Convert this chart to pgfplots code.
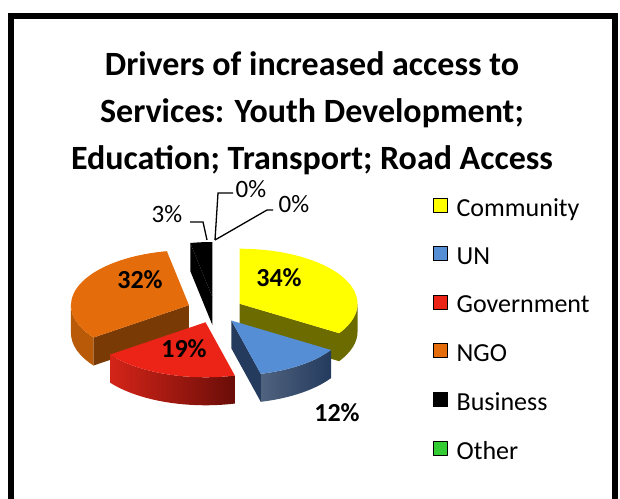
\documentclass[border=0pt]{standalone}
\usepackage{pgfplots}
\usepackage{pgfplotstable}
\pgfplotsset{compat=1.18}
\usepackage{fontspec}
\setmainfont{Carlito}

\definecolor{cYel}{HTML}{FFFF00}
\definecolor{cYelS}{HTML}{6B6B00}
\definecolor{cBlu}{HTML}{558ED5}
\definecolor{cBluS}{HTML}{243B5E}
\definecolor{cRed}{HTML}{EC2418}
\definecolor{cRedS1}{HTML}{D42418}
\definecolor{cRedS2}{HTML}{6A0D08}
\definecolor{cOra}{HTML}{E46C0A}
\definecolor{cOraS}{HTML}{7A3A05}
\definecolor{cOraW}{HTML}{B85A08}
\definecolor{cBlk}{HTML}{000000}
\definecolor{cGrn}{HTML}{33CC33}

\tikzset{
 top0/.style={fill=cYel}, wall0/.style={fill=cYelS}, face0/.style={fill=cYelS},
 top1/.style={fill=cBlu}, wall1/.style={left color=cBluS!80!white, right color=cBluS}, face1/.style={fill=cBluS},
 top2/.style={fill=cRed}, wall2/.style={left color=cRedS1, right color=cRedS2}, face2/.style={fill=cRedS2},
 top3/.style={fill=cOra}, wall3/.style={fill=cOraW}, face3/.style={fill=cOraS},
 top4/.style={fill=cBlk}, wall4/.style={fill=cBlk}, face4/.style={fill=cBlk},
 top5/.style={fill=cGrn}, wall5/.style={fill=cGrn}, face5/.style={fill=cGrn},
 top6/.style={fill=cGrn}, wall6/.style={fill=cGrn}, face6/.style={fill=cGrn},
}

\pgfplotstableread{
name value
Community 34
UN 12
Government 19
NGO 32
Business 3
Other 0
Blank 0
}\piedata

\def\cx{215}\def\cy{188}\def\R{118}\def\Ry{55}\def\D{28}\def\E{28}

\newcommand\drawslice[1]{%
 \edef\tx{\csname tx#1\endcsname}\edef\ty{\csname ty#1\endcsname}%
 \edef\aS{\csname aS#1\endcsname}\edef\aE{\csname aE#1\endcsname}%
 \ifnum\csname wv#1\endcsname=1
  \edef\wl{\csname wl#1\endcsname}\edef\wh{\csname wh#1\endcsname}%
  \pgfmathsetmacro\px{\tx+\R*cos(\wl)}\pgfmathsetmacro\py{\ty+\Ry*sin(\wl)}%
  \edef\tmp{\noexpand\path[wall#1] (axis cs:\px,\py) arc[start angle=\wl, end angle=\wh, x radius=\R pt, y radius=\Ry pt] -- ++(0pt,-\D pt) arc[start angle=\wh, end angle=\wl, x radius=\R pt, y radius=\Ry pt] -- cycle;}\tmp
 \fi
 \ifnum\csname fs#1\endcsname=1
  \pgfmathsetmacro\px{\tx+\R*cos(\aS)}\pgfmathsetmacro\py{\ty+\Ry*sin(\aS)}%
  \edef\tmp{\noexpand\path[face#1] (axis cs:\tx,\ty) -- (axis cs:\px,\py) -- ++(0pt,-\D pt) -- ([yshift=-\D pt]axis cs:\tx,\ty) -- cycle;}\tmp
 \fi
 \ifnum\csname fe#1\endcsname=1
  \pgfmathsetmacro\px{\tx+\R*cos(\aE)}\pgfmathsetmacro\py{\ty+\Ry*sin(\aE)}%
  \edef\tmp{\noexpand\path[face#1] (axis cs:\tx,\ty) -- (axis cs:\px,\py) -- ++(0pt,-\D pt) -- ([yshift=-\D pt]axis cs:\tx,\ty) -- cycle;}\tmp
 \fi
 \pgfmathsetmacro\px{\tx+\R*cos(\aE)}\pgfmathsetmacro\py{\ty+\Ry*sin(\aE)}%
 \edef\tmp{\noexpand\path[top#1] (axis cs:\tx,\ty) -- (axis cs:\px,\py) arc[start angle=\aE, end angle=\aS, x radius=\R pt, y radius=\Ry pt] -- cycle;}\tmp
}

\begin{document}
\begin{tikzpicture}
\gdef\cum{0}
\foreach \i in {0,...,6}{
  \pgfplotstablegetelem{\i}{value}\of\piedata
  \let\v\pgfplotsretval
  \pgfmathsetmacro\aS{90-3.6*\cum}
  \pgfmathsetmacro\aE{90-3.6*(\cum+\v)}
  \pgfmathsetmacro\bis{(\aS+\aE)/2}
  \pgfmathsetmacro\tx{\cx+\E*cos(\bis)}
  \pgfmathsetmacro\ty{\cy+\E*\Ry/\R*sin(\bis)}
  \pgfmathsetmacro\wl{max(\aE,-180)}
  \pgfmathsetmacro\wh{min(\aS,0)}
  \pgfmathtruncatemacro\wv{\wl<\wh}
  \pgfmathtruncatemacro\fs{cos(\aS)<-0.001}
  \pgfmathtruncatemacro\fe{cos(\aE)>0.001}
  \expandafter\xdef\csname aS\i\endcsname{\aS}
  \expandafter\xdef\csname aE\i\endcsname{\aE}
  \expandafter\xdef\csname tx\i\endcsname{\tx}
  \expandafter\xdef\csname ty\i\endcsname{\ty}
  \expandafter\xdef\csname wl\i\endcsname{\wl}
  \expandafter\xdef\csname wh\i\endcsname{\wh}
  \expandafter\xdef\csname wv\i\endcsname{\wv}
  \expandafter\xdef\csname fs\i\endcsname{\fs}
  \expandafter\xdef\csname fe\i\endcsname{\fe}
  \pgfmathsetmacro\nc{\cum+\v}
  \xdef\cum{\nc}
}
\begin{axis}[
  width=620pt, height=498pt, scale only axis,
  xmin=0, xmax=620, ymin=0, ymax=498, enlargelimits=false,
  hide axis, clip=false,
  legend style={at={(axis cs:433,303)}, anchor=north west, draw=none, fill=none,
    font=\fontsize{26}{31}\selectfont, row sep=24pt, inner sep=0pt,
    nodes={inner sep=3pt}},
  legend cell align=left,
  legend image code/.code={\fill[#1] (0pt,-4pt) rectangle (14pt,10pt); \path (20pt,0pt);},
]
\addlegendimage{fill=cYel}
\addlegendimage{fill=cBlu}
\addlegendimage{fill=cRed}
\addlegendimage{fill=cOra}
\addlegendimage{fill=cBlk}
\addlegendimage{fill=cGrn}
\legend{Community,UN,Government,NGO,Business,Other}

\drawslice{4}
\drawslice{0}
\drawslice{3}
\drawslice{1}
\drawslice{2}

\node[font=\bfseries\fontsize{26}{30}\selectfont] at (axis cs:279,220) {34\%};
\node[font=\bfseries\fontsize{26}{30}\selectfont] at (axis cs:140,218) {32\%};
\node[font=\bfseries\fontsize{26}{30}\selectfont] at (axis cs:184,149) {19\%};
\node[font=\bfseries\fontsize{26}{30}\selectfont] at (axis cs:337,85) {12\%};
\node[font=\fontsize{25}{30}\selectfont] at (axis cs:167,284) {3\%};
\node[font=\fontsize{25}{30}\selectfont] at (axis cs:251,309) {0\%};
\node[font=\fontsize{25}{30}\selectfont] at (axis cs:294,294) {0\%};
\draw[line width=1.3pt] (axis cs:190,276) -- (axis cs:203,276) -- (axis cs:207,258);
\draw[line width=1.3pt] (axis cs:233,305) -- (axis cs:218,305) -- (axis cs:215,258);
\draw[line width=1.3pt] (axis cs:273,288) -- (axis cs:267,288) -- (axis cs:215,258);

\node[align=center, font=\bfseries\fontsize{34}{47}\selectfont] at (axis cs:312,385)
 {Drivers of increased access to\\Services: Youth Development;\\Education; Transport; Road Access};

\draw[line width=6pt] (axis cs:11,-20) -- (axis cs:11,482) -- (axis cs:615,482) -- (axis cs:615,-20);
\end{axis}
\pgfresetboundingbox
\useasboundingbox (current axis.south west) rectangle (current axis.north east);
\end{tikzpicture}
\end{document}
